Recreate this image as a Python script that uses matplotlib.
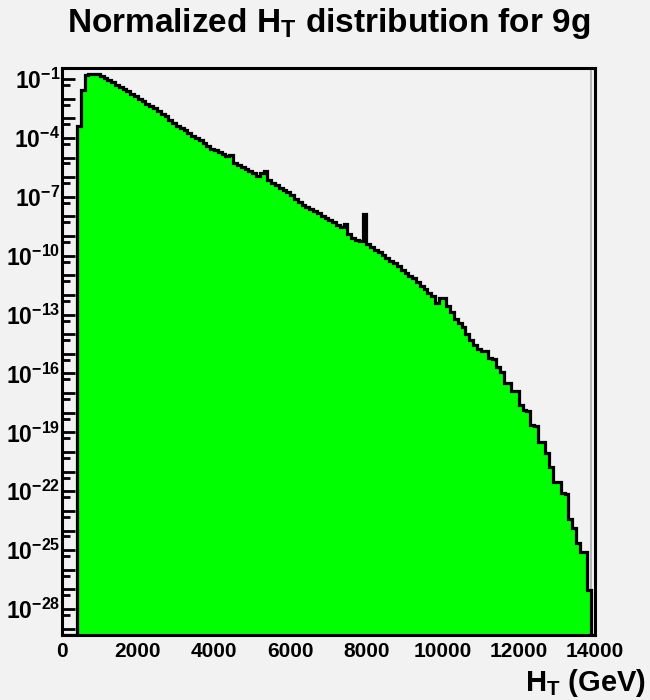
import numpy as np
import matplotlib
matplotlib.use("Agg")
import matplotlib.pyplot as plt
from matplotlib.ticker import FixedLocator, FuncFormatter, MultipleLocator

plt.rcParams["font.family"] = ["Liberation Sans", "DejaVu Sans"]
plt.rcParams["mathtext.fontset"] = "custom"
plt.rcParams["mathtext.rm"] = "Liberation Sans:bold"
plt.rcParams["mathtext.bf"] = "Liberation Sans:bold"
plt.rcParams["mathtext.it"] = "Liberation Sans:bold"
plt.rcParams["mathtext.default"] = "rm"

# Histogram binning: 140 bins of 100 GeV between 0 and 14000 GeV
ht_low = 0.0
ht_high = 14000.0
n_bins = 140

# log10 of the normalised bin content (None = empty bin)
log10_content = [
    None, None, None, None, -3.40, -1.56, -0.80, -0.75, -0.73, -0.76,
    -0.86, -0.95, -1.06, -1.17, -1.29, -1.43, -1.52, -1.63, -1.74, -1.85,
    -2.01, -2.14, -2.27, -2.39, -2.48, -2.62, -2.76, -2.90, -3.08, -3.24,
    -3.37, -3.50, -3.61, -3.75, -3.90, -4.00, -4.13, -4.26, -4.43, -4.57,
    -4.64, -4.73, -4.84, -4.94, -4.88, -5.29, -5.38, -5.49, -5.58, -5.70,
    -5.80, -5.95, -5.80, -5.70, -6.15, -6.31, -6.42, -6.54, -6.65, -6.76,
    -6.90, -7.10, -7.28, -7.40, -7.50, -7.63, -7.72, -7.80, -7.96, -8.07,
    -8.16, -8.30, -8.45, -8.52, -8.39, -8.90, -9.08, -9.20, -9.25, -7.88,
    -9.42, -9.55, -9.70, -9.83, -9.98, -10.10, -10.25, -10.39, -10.55, -10.75,
    -10.90, -11.03, -11.15, -11.35, -11.55, -11.70, -11.88, -12.05, -12.40, -12.16,
    -12.16, -12.55, -12.85, -13.25, -13.45, -13.65, -14.00, -14.30, -14.55, -14.75,
    -14.84, -14.86, -15.23, -15.25, -15.66, -15.91, -16.47, -16.50, -16.88, -16.90,
    -17.60, -17.86, -17.90, -18.63, -18.65, -19.47, -19.50, -20.07, -20.75, -21.51,
    -21.55, -22.10, -22.12, -23.43, -23.89, -24.65, -25.08, -25.10, -27.03, None,
]

# Axis ranges and labelled decades
y_range_log10 = (-29.32, -0.455)
labelled_exponents = [-1, -4, -7, -10, -13, -16, -19, -22, -25, -28]
x_major_step = 2000
x_minor_step = 500

title_text = r"Normalized H$_\mathregular{T}$ distribution for 9g"
xlabel_text = r"H$_\mathregular{T}$ (GeV)"

bg = "#f2f2f2"
fill_color = "#00ff00"

edges = np.linspace(ht_low, ht_high, n_bins + 1)
content = np.array([0.0 if v is None else 10.0 ** v for v in log10_content])
ymin, ymax = 10.0 ** y_range_log10[0], 10.0 ** y_range_log10[1]
shown = np.where(content > 0, content, ymin)

fig = plt.figure(figsize=(6.5, 7.0), dpi=100, facecolor=bg)
ax = fig.add_axes([0.0949, 0.0929, 0.8205, 0.8095])
ax.set_facecolor(bg)
ax.set_yscale("log")
ax.set_xlim(ht_low, ht_high)
ax.set_ylim(ymin, ymax)

ax.stairs(shown, edges, baseline=ymin, fill=True, color=fill_color,
          linewidth=0, zorder=2)
last_filled = np.nonzero(content)[0][-1]
ax.axvline(edges[last_filled + 1], color="#b4b4b4", linewidth=1.4, zorder=2.5)
ax.stairs(shown, edges, baseline=None, fill=False, color="black",
          linewidth=2.3, zorder=3)

for sp in ax.spines.values():
    sp.set_linewidth(2.2)
    sp.set_color("black")
    sp.set_zorder(5)

ax.xaxis.set_major_locator(MultipleLocator(x_major_step))
ax.xaxis.set_minor_locator(MultipleLocator(x_minor_step))
ax.xaxis.set_major_formatter(FuncFormatter(lambda v, p: f"{v:.0f}"))

decades = np.arange(int(np.floor(y_range_log10[0])), 0)
ax.yaxis.set_major_locator(FixedLocator(10.0 ** decades.astype(float)))
ax.yaxis.set_minor_locator(FixedLocator(5.0 * 10.0 ** (decades - 1).astype(float)))


def ylab(v, p):
    e = int(round(np.log10(v)))
    if e in labelled_exponents:
        return r"$10^{%d}$" % e
    return ""


ax.yaxis.set_major_formatter(FuncFormatter(ylab))
ax.yaxis.set_minor_formatter(FuncFormatter(lambda v, p: ""))

ax.tick_params(axis="x", which="major", direction="in", length=11.5, width=2.0,
               labelsize=15, pad=5, top=False)
ax.tick_params(axis="x", which="minor", direction="in", length=5.8, width=2.0,
               top=False)
ax.tick_params(axis="y", which="major", direction="in", length=9.5, width=2.0,
               labelsize=16.5, pad=1, right=False)
ax.tick_params(axis="y", which="minor", direction="in", length=5.5, width=2.0,
               right=False)
for lab in ax.get_xticklabels():
    lab.set_fontweight("bold")

fig.text(0.506, 0.966, title_text, ha="center", va="center", fontsize=24,
         fontweight="bold")
fig.text(0.993, 0.002, xlabel_text, ha="right", va="bottom", fontsize=21,
         fontweight="bold")

fig.savefig("out.png", dpi=100, facecolor=bg)
